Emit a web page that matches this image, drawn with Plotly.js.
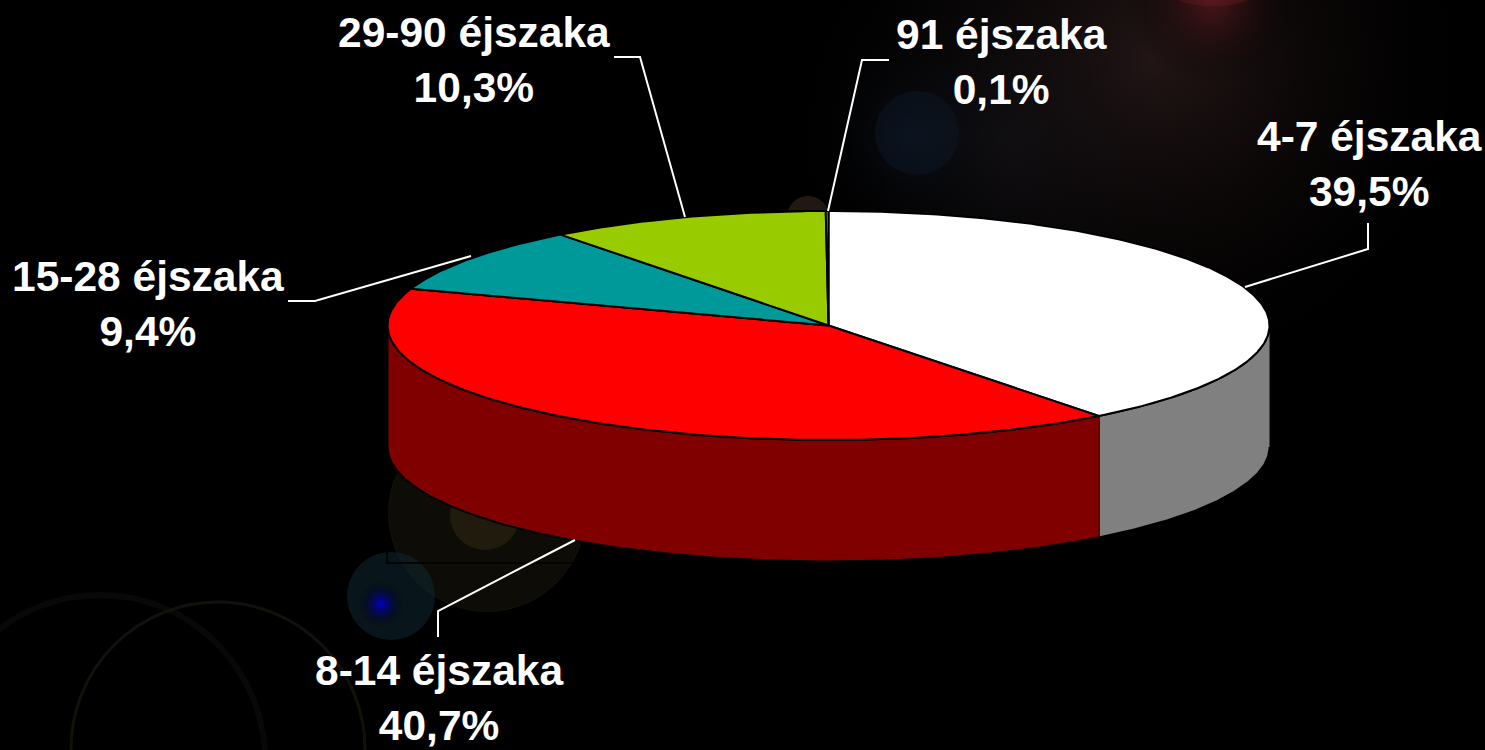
<!DOCTYPE html>
<html><head><meta charset="utf-8">
<script src="https://cdn.plot.ly/plotly-3.0.1.min.js"></script>
<style>html,body{margin:0;padding:0;background:#000;overflow:hidden}#c{width:1485px;height:750px}</style>
</head><body><div id="c"></div>
<script>
// Data
const categories = ["4-7 éjszaka","8-14 éjszaka","15-28 éjszaka","29-90 éjszaka","91 éjszaka"];
const shares = [39.5,40.7,9.4,10.3,0.1];
const topColors = ["#ffffff","#ff0000","#009999","#99cc00","#99cc00"];
const sideColors = ["#808080","#800000","#004c4c","#4c6600","#4c6600"];

// Pie projection
const cx=828.5, cy=325.5, rx=441, ry=114.5, depth=121.5;
const W=1485, H=750;
const pt=(a,d=0)=>[cx+rx*Math.sin(a), cy-ry*Math.cos(a)+d];
const arc=(a0,a1,d=0)=>{const n=Math.max(2,Math.ceil(Math.abs(a1-a0)/0.01));const o=[];for(let i=0;i<=n;i++)o.push(pt(a0+(a1-a0)*i/n,d));return o;};
const poly=(pts,fill,lw=2,lc="#000")=>({type:"scatter",mode:"lines",x:pts.map(p=>p[0]),y:pts.map(p=>p[1]),fill:"toself",fillcolor:fill,line:{color:lc,width:lw},hoverinfo:"skip",showlegend:false});

const traces=[];
// glows (behind the pie)
const glows=[
 {x:1150,y:60,s:700,c:"rgba(52,32,32,0.75)"},
 {x:1000,y:140,s:480,c:"rgba(22,22,28,0.55)"},
 {x:1212,y:0,s:170,c:"rgba(90,24,30,0.8)"},
 {x:915,y:135,s:210,c:"rgba(14,24,40,0.5)"},
 {x:381,y:604,s:46,c:"rgba(0,0,200,1)"}
];
glows.forEach(g=>traces.push({type:"scatter",mode:"markers",x:[g.x],y:[g.y],hoverinfo:"skip",showlegend:false,
  marker:{size:g.s,color:"rgba(0,0,0,0)",line:{width:0},gradient:{type:"radial",color:g.c}}}));

// side walls (only the front half is visible), drawn back to front
const tau=2*Math.PI;
let cum=0; const spans=shares.map(v=>{const a0=cum/100*tau;cum+=v;return [a0,cum/100*tau];});
spans.forEach(([a0,a1],i)=>{
  const lo=Math.max(a0,Math.PI/2), hi=Math.min(a1,3*Math.PI/2);
  if(hi<=lo) return;
  traces.push(poly(arc(lo,hi).concat(arc(hi,lo,depth)),sideColors[i]));
});
// top face
spans.forEach(([a0,a1],i)=>{
  traces.push(poly([[cx,cy]].concat(arc(a0,a1)).concat([[cx,cy]]),topColors[i]));
});

// leader lines
const leaders=[
 [[1368,223],[1368,249],[1245,287]],
 [[438,637],[438,611],[575,540]],
 [[288,301],[315,301],[471,256]],
 [[614,57],[640,57],[685,217]],
 [[889,60],[862,60],[828,211]]
];
leaders.forEach(l=>traces.push({type:"scatter",mode:"lines",x:l.map(p=>p[0]),y:l.map(p=>p[1]),line:{color:"#fff",width:2},hoverinfo:"skip",showlegend:false}));

const labelPos=[[1369,164],[439,698],[148,304],[474,60],[1001,62]];
const annotations=categories.map((c,i)=>({xref:"x",yref:"y",x:labelPos[i][0],y:labelPos[i][1],showarrow:false,align:"center",
  xanchor:"center",yanchor:"middle",text:c+"<br>"+shares[i].toFixed(1).replace(".",",")+"%",
  font:{family:"'Liberation Sans',Arial,sans-serif",size:42.5,color:"#fff",weight:700}}));

const ring=(x,y,r,fill,line,lw=2)=>({type:"circle",xref:"x",yref:"y",x0:x-r,x1:x+r,y0:y-r,y1:y+r,fillcolor:fill,line:{color:line,width:lw},layer:"below"});
const shapes=[
 ring(218,749,147,"rgba(0,0,0,0)","rgba(40,40,24,0.45)",3),
 ring(100,760,165,"rgba(0,0,0,0)","rgba(26,26,20,0.3)",6),
 ring(487,513,98.5,"rgba(44,40,22,0.3)","rgba(50,46,26,0.25)",1),
 ring(485,515,35,"rgba(64,50,26,0.4)","rgba(0,0,0,0)",0),
 ring(391,596,44,"rgba(16,42,52,0.5)","rgba(0,0,0,0)",0),
 ring(808,217,21,"rgba(56,40,32,0.65)","rgba(0,0,0,0)",0),
 ring(917,133,42,"rgba(8,26,46,0.75)","rgba(0,0,0,0)",0),
 {type:"circle",xref:"x",yref:"y",x0:1165,x1:1260,y0:-30,y1:6,fillcolor:"rgba(150,26,36,0.85)",line:{width:0},layer:"below"},
 {type:"rect",xref:"x",yref:"y",x0:387,x1:1270,y0:211,y1:563,fillcolor:"rgba(0,0,0,0)",line:{color:"#000",width:1.5},layer:"below"}
];

Plotly.newPlot("c",traces,{
  width:W,height:H,margin:{l:0,r:0,t:0,b:0},paper_bgcolor:"#000",plot_bgcolor:"#000",showlegend:false,
  xaxis:{range:[0,W],visible:false,fixedrange:true},
  yaxis:{range:[H,0],visible:false,fixedrange:true},
  annotations,shapes
},{displayModeBar:false,staticPlot:true});
</script></body></html>
